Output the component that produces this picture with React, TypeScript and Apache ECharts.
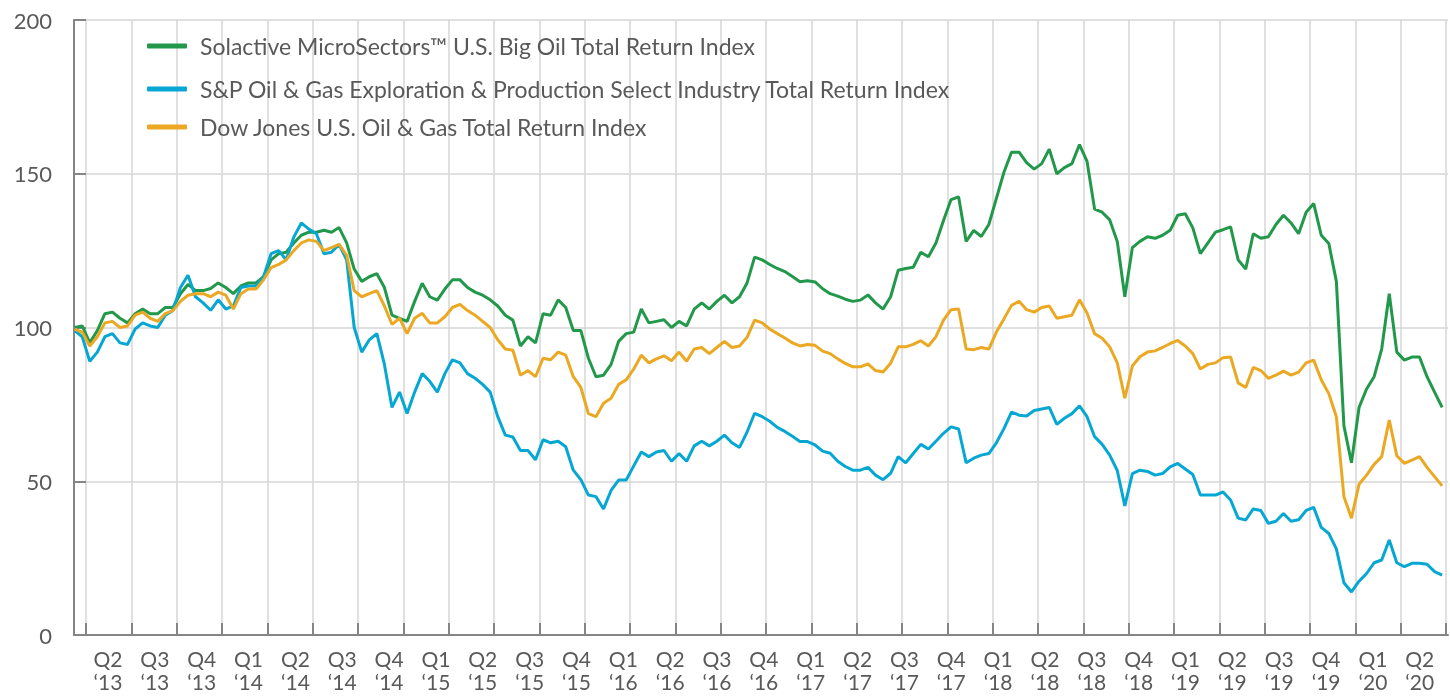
import React, { useEffect, useRef } from "react";
import * as echarts from "echarts";

const seriesNames = [
  "Solactive MicroSectors™ U.S. Big Oil Total Return Index",
  "S&P Oil & Gas Exploration & Production Select Industry Total Return Index",
  "Dow Jones U.S. Oil & Gas Total Return Index",
];

const seriesColors = ["#21984a", "#06a7d3", "#eba823"];

const quarterLabels = [
  "Q2\n‘13", "Q3\n‘13", "Q4\n‘13",
  "Q1\n‘14", "Q2\n‘14", "Q3\n‘14", "Q4\n‘14",
  "Q1\n‘15", "Q2\n‘15", "Q3\n‘15", "Q4\n‘15",
  "Q1\n‘16", "Q2\n‘16", "Q3\n‘16", "Q4\n‘16",
  "Q1\n‘17", "Q2\n‘17", "Q3\n‘17", "Q4\n‘17",
  "Q1\n‘18", "Q2\n‘18", "Q3\n‘18", "Q4\n‘18",
  "Q1\n‘19", "Q2\n‘19", "Q3\n‘19", "Q4\n‘19",
  "Q1\n‘20", "Q2\n‘20",
];

// time of each sample, in quarter-tick units from the first tick (roughly fortnightly samples)
const sampleTimes = Array.from({ length: 182 }, (_, i) => -0.25 + i / 6);

const bigOil = [
  100, 100.5, 95, 99, 104.5, 105, 103, 101.5, 104.5, 106,
  104.5, 104.5, 106.5, 106.5, 111, 114, 112, 112, 112.7, 114.5,
  113, 111, 113.5, 114.5, 114.5, 116.5, 122, 124, 124.5, 127.5,
  130, 131, 131, 131.6, 131, 132.5, 127.5, 119, 115, 116.5,
  117.5, 113, 104, 103, 102, 108.5, 114.4, 110, 108.9, 112.5,
  115.5, 115.5, 113, 111.5, 110.5, 109, 107, 104, 102.4, 94,
  97, 95, 104.5, 104, 109, 106.5, 99, 99, 90, 84,
  84.5, 88, 95.5, 98, 98.5, 106, 101.5, 102, 102.5, 100,
  102, 100.5, 106, 108, 106, 108.5, 110.5, 108, 110, 114.5,
  122.9, 122, 120.5, 119.2, 118.2, 116.6, 114.9, 115.2, 114.8, 112.6,
  111, 110.2, 109.2, 108.5, 108.9, 110.6, 108, 106, 110, 118.6,
  119.2, 119.6, 124.5, 123, 127.5, 134.8, 141.6, 142.5, 128, 131.6,
  129.6, 133.5, 142, 150.5, 157, 157, 153.6, 151.5, 153.3, 158,
  150, 152, 153.3, 159.5, 154, 138.5, 137.5, 135, 128, 110,
  126, 128, 129.5, 129, 130, 131.6, 136.5, 137, 132.4, 124,
  127.5, 131, 131.8, 132.7, 122, 119, 130.5, 129, 129.5, 133.5,
  136.5, 134, 130.5, 137.5, 140.3, 130, 127.3, 115, 68, 56,
  74, 80, 84, 93, 111, 92, 89.4, 90.4, 90.4, 84,
  79, 74,
];

const explorationProduction = [
  99, 97, 89, 92, 97, 98, 95, 94.5, 99.5, 101.5,
  100.5, 100, 104, 105.5, 113, 117, 110, 108, 105.6, 109,
  106, 107, 113, 113.5, 113.5, 116.5, 124, 125, 122, 129.4,
  134, 132, 130.5, 124, 124.5, 127, 122, 100, 92, 96,
  98, 88, 74, 79, 72, 79, 85, 82.5, 79, 85,
  89.5, 88.5, 85, 83.5, 81.5, 79, 71, 65, 64.4, 60,
  60, 57, 63.5, 62.5, 63, 61.2, 53.6, 50.5, 45.5, 45,
  41, 47, 50.4, 50.4, 55, 59.5, 58, 59.5, 60, 56.5,
  59, 56.5, 61.5, 63, 61.5, 63, 65, 62.5, 61, 66,
  72.1, 71, 69.5, 67.5, 66.2, 64.6, 62.9, 62.9, 61.8, 59.8,
  59.1, 56.5, 54.8, 53.6, 53.6, 54.5, 52, 50.5, 52.6, 58,
  56, 59, 62, 60.5, 63, 65.6, 67.7, 67, 56, 57.5,
  58.5, 59, 62.5, 67.1, 72.5, 71.5, 71.2, 73, 73.5, 74,
  68.5, 70.5, 72, 74.5, 71, 64.5, 62, 58.5, 53.5, 42,
  52.5, 53.6, 53.2, 52, 52.5, 54.7, 55.8, 54, 52.2, 45.5,
  45.5, 45.5, 46.5, 43.9, 38, 37.4, 41, 40.5, 36.3, 37,
  39.5, 37, 37.5, 40.5, 41.5, 35, 33, 28, 17, 14,
  17.5, 20, 23.5, 24.4, 30.9, 23.5, 22.2, 23.3, 23.3, 23,
  20.6, 19.5,
];

const dowJonesOilGas = [
  99.5, 98.5, 94, 97, 101.5, 102, 100, 100.5, 104, 105,
  103, 102, 104.5, 105.5, 108.5, 110.5, 111, 111, 110, 111.5,
  110.5, 106, 111, 112.5, 112.5, 115.5, 119.5, 120.5, 122, 125,
  127.5, 128.5, 128, 125, 126, 127, 123.5, 112, 110, 111,
  112, 107, 101, 103, 98, 103, 104.6, 101.5, 101.5, 103.5,
  106.5, 107.5, 105.5, 104, 102, 100, 96, 93, 92.6, 84.5,
  86, 84, 90, 89.5, 92, 91, 84, 80.5, 72, 71,
  75.4, 77, 81.5, 83, 86.5, 91, 88.5, 89.8, 90.8, 89.2,
  92, 89, 93, 93.5, 91.5, 93.5, 95.5, 93.5, 94, 96.8,
  102.4, 101.5, 99.5, 98, 96.6, 95, 94, 94.5, 94.2, 92.3,
  91.5, 89.8, 88.3, 87.2, 87.2, 88.2, 86, 85.5, 88.4, 93.7,
  93.7, 94.5, 95.7, 94, 97, 102.4, 105.8, 106, 93, 92.8,
  93.5, 93, 98.5, 102.8, 107.2, 108.5, 105.8, 105, 106.5, 107,
  103, 103.5, 104, 109, 104.7, 98, 96.5, 93.7, 88.5, 77,
  87.5, 90.5, 92, 92.4, 93.5, 94.8, 95.8, 94, 91.5, 86.5,
  88, 88.5, 90.2, 90.4, 82, 80.5, 87, 86, 83.5, 84.5,
  85.8, 84.5, 85.5, 88.5, 89.4, 83, 78.5, 71, 45, 38,
  49, 52, 55.5, 58, 69.9, 58.3, 55.8, 56.9, 58, 54.5,
  51.5, 48.5,
];

const seriesValues = [bigOil, explorationProduction, dowJonesOilGas];

const yMin = 0;
const yMax = 200;
const yStep = 50;

// layout constants (axis geometry, not data)
const X_MIN = -0.2647;
const X_MAX = 30.046;
const TICK_VALUES = Array.from({ length: 31 }, (_, k) => k);
const LABEL_START = 0.485;
const LABEL_STEP = 1.0335;
const LABEL_VALUES = quarterLabels.map((_, k) => LABEL_START + LABEL_STEP * k);

const FONT = "Lato";
const TEXT_COLOR = "#595959";
const AXIS_COLOR = "#858585";
const GRID_COLOR = "#d6d6d6";

export default function App() {
  const ref = useRef<HTMLDivElement>(null);

  useEffect(() => {
    if (!ref.current) return;
    document.body.style.margin = "0";
    document.body.style.overflow = "hidden";
    const chart = echarts.init(ref.current, undefined, { renderer: "svg" });
    const legendTops = [34, 77, 115];
    const option: any = {
      animation: false,
      grid: { left: 74, right: 2, top: 20, bottom: 61, containLabel: false },
      legend: seriesNames.map((name, k) => ({
        data: [name],
        left: 147,
        top: legendTops[k],
        padding: 0,
        orient: "horizontal",
        icon: "roundRect",
        itemWidth: 40,
        itemHeight: 5,
        selectedMode: false,
        textStyle: {
          fontFamily: FONT,
          fontSize: 23,
          lineHeight: 24,
          color: TEXT_COLOR,
          padding: [0, 0, 0, 8],
        },
      })),
      xAxis: {
        type: "value",
        min: X_MIN,
        max: X_MAX,
        axisLine: { show: true, onZero: false, lineStyle: { color: AXIS_COLOR, width: 2 } },
        axisTick: {
          show: true,
          inside: true,
          length: 12,
          customValues: TICK_VALUES,
          lineStyle: { color: AXIS_COLOR, width: 2 },
        },
        splitLine: { show: true, lineStyle: { color: GRID_COLOR, width: 1.5 } },
        axisLabel: {
          customValues: LABEL_VALUES,
          formatter: (v: number) => {
            const k = Math.round((v - LABEL_START) / LABEL_STEP);
            return quarterLabels[k] ?? "";
          },
          fontFamily: FONT,
          fontSize: 21,
          lineHeight: 23,
          color: TEXT_COLOR,
          margin: 12,
          align: "center",
        },
      },
      yAxis: {
        type: "value",
        min: yMin,
        max: yMax,
        interval: yStep,
        axisLine: { show: true, onZero: false, lineStyle: { color: AXIS_COLOR, width: 2 } },
        axisTick: { show: true, inside: true, length: 12, lineStyle: { color: AXIS_COLOR, width: 2 } },
        splitLine: { show: true, lineStyle: { color: GRID_COLOR, width: 1.5 } },
        axisLabel: {
          fontFamily: FONT,
          fontSize: 22,
          color: TEXT_COLOR,
          margin: 22,
        },
      },
      series: seriesNames.map((name, k) => ({
        name,
        type: "line",
        showSymbol: false,
        symbol: "none",
        color: seriesColors[k],
        lineStyle: { color: seriesColors[k], width: 3 },
        emphasis: { disabled: true },
        data: sampleTimes.map((t, i) => [t, seriesValues[k][i]]),
        z: 2 + k,
      })),
    };
    chart.setOption(option);
    return () => chart.dispose();
  }, []);

  return (
    <div
      ref={ref}
      style={{ position: "fixed", left: 0, top: 0, width: 1450, height: 696 }}
    />
  );
}
